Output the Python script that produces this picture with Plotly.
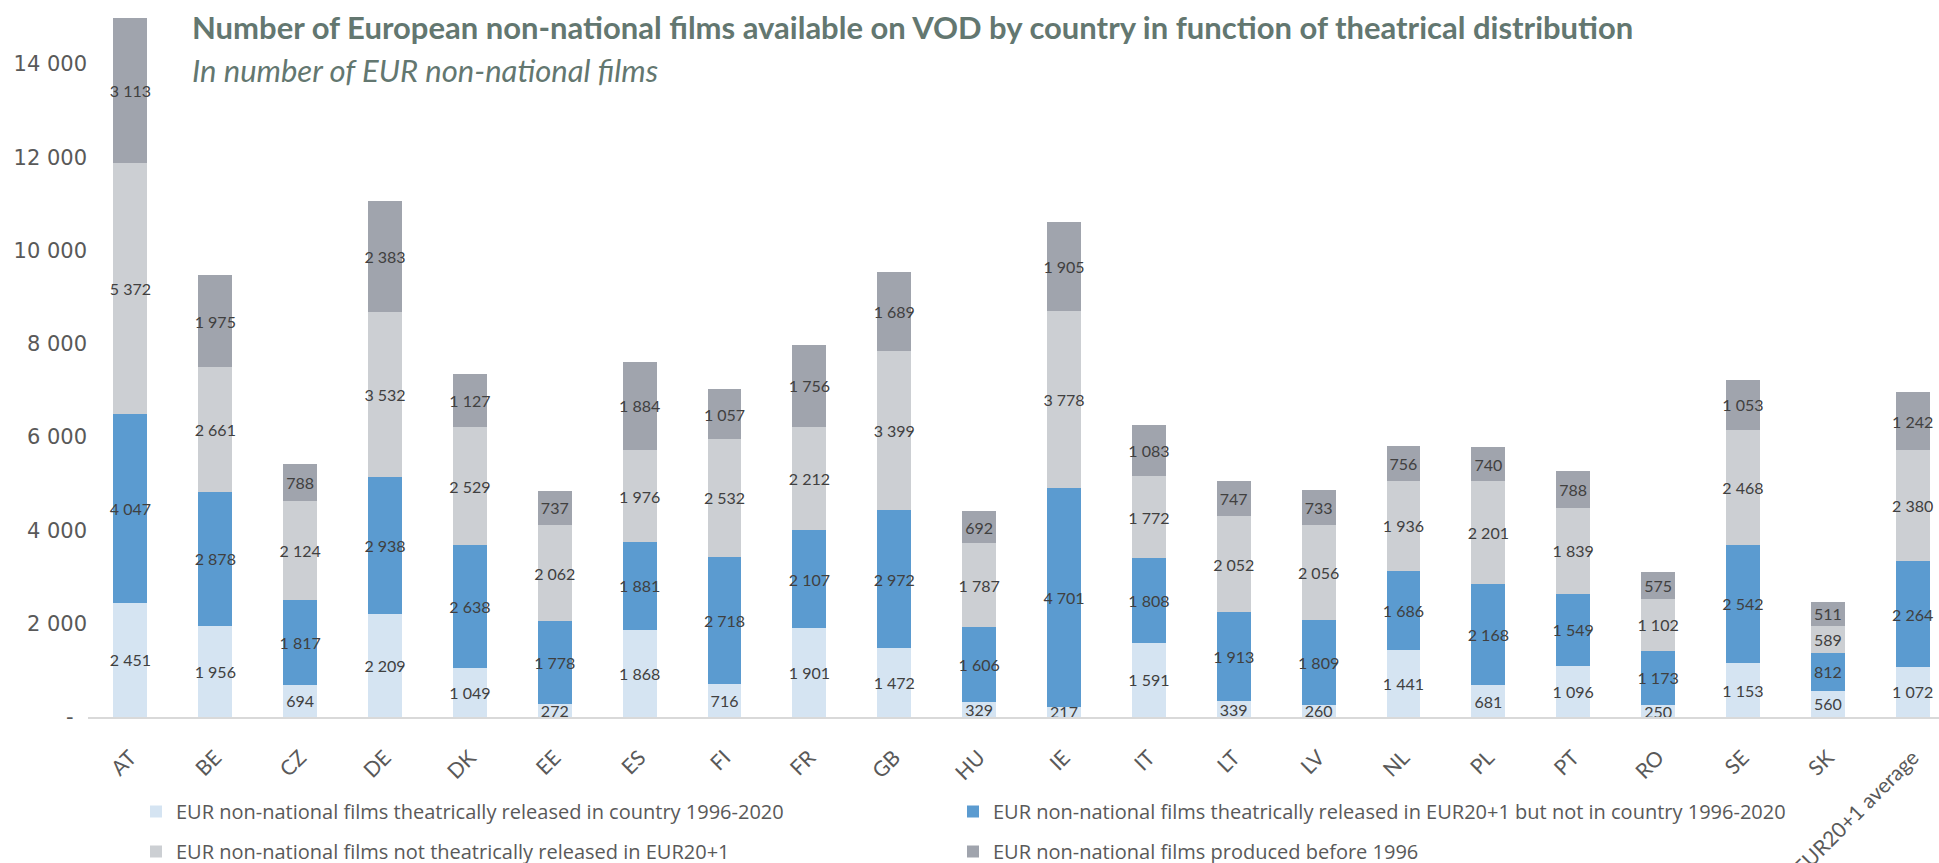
import plotly.graph_objects as go

categories = ["AT", "BE", "CZ", "DE", "DK", "EE", "ES", "FI", "FR", "GB", "HU",
              "IE", "IT", "LT", "LV", "NL", "PL", "PT", "RO", "SE", "SK",
              "EUR20+1 average"]

released_in_country = [2451, 1956, 694, 2209, 1049, 272, 1868, 716, 1901, 1472, 329,
                       217, 1591, 339, 260, 1441, 681, 1096, 250, 1153, 560, 1072]
released_eur_not_country = [4047, 2878, 1817, 2938, 2638, 1778, 1881, 2718, 2107, 2972, 1606,
                            4701, 1808, 1913, 1809, 1686, 2168, 1549, 1173, 2542, 812, 2264]
not_released_eur = [5372, 2661, 2124, 3532, 2529, 2062, 1976, 2532, 2212, 3399, 1787,
                    3778, 1772, 2052, 2056, 1936, 2201, 1839, 1102, 2468, 589, 2380]
before_1996 = [3113, 1975, 788, 2383, 1127, 737, 1884, 1057, 1756, 1689, 692,
               1905, 1083, 747, 733, 756, 740, 788, 575, 1053, 511, 1242]

series_names = [
    "EUR non-national films theatrically released in country 1996-2020",
    "EUR non-national films theatrically released in EUR20+1 but not in country 1996-2020",
    "EUR non-national films not theatrically released in EUR20+1",
    "EUR non-national films produced before 1996",
]
series_values = [released_in_country, released_eur_not_country, not_released_eur, before_1996]
series_colors = ["#d5e4f2", "#5b9bd0", "#cccfd3", "#a0a4ad"]
series_legend = ["legend", "legend2", "legend3", "legend4"]

y_tickvals = [0, 2000, 4000, 6000, 8000, 10000, 12000, 14000]
y_ticktext = ["-\u00a0\u00a0", "2 000", "4 000", "6 000", "8 000", "10 000", "12 000", "14 000"]

# The chart is drawn slightly taller than the 863 px window, like the cropped original.
W, H = 1939, 890
AXIS_Y = 717
L, R, T = 88, 0, 0
B = H - AXIS_Y
plot_w = W - L - R
plot_h = H - B - T

fig = go.Figure()
for name, vals, col, lg in zip(series_names, series_values, series_colors, series_legend):
    fig.add_trace(go.Bar(
        x=categories, y=vals, name=name,
        marker=dict(color=col, line=dict(width=0)),
        texttemplate="%{y:,}",
        textposition="inside",
        insidetextanchor="middle",
        textangle=0,
        constraintext="none",
        cliponaxis=False,
        textfont=dict(family="Lato", size=16, color="#404040"),
        legend=lg,
        hoverinfo="skip",
    ))

def px_x(px):
    return (px - L) / plot_w

def px_y(py):
    return (AXIS_Y - py) / plot_h

legend_font = dict(family="Open Sans", size=20, color="#595959")

def legend_at(left_px, top_px):
    return dict(
        orientation="h", x=px_x(left_px), y=px_y(top_px), xanchor="left", yanchor="top",
        font=legend_font, itemsizing="constant", bgcolor="rgba(0,0,0,0)",
    )

fig.update_layout(
    width=W, height=H,
    barmode="stack",
    bargap=0.6,
    separators=". ",
    plot_bgcolor="white",
    paper_bgcolor="white",
    margin=dict(l=L, r=R, t=T, b=B, pad=0),
    showlegend=True,
    xaxis=dict(
        type="category",
        range=[-0.5, 21.31],
        tickangle=-45,
        tickfont=dict(family="Lato", size=21, color="#595959"),
        ticklabelstandoff=18,
        ticklabelshift=0,
        showline=True, linecolor="#d9d9d9", linewidth=2,
        ticks="", showgrid=False,
    ),
    yaxis=dict(
        range=[0, 15370],
        tickvals=y_tickvals, ticktext=y_ticktext,
        tickfont=dict(family="DejaVu Sans", size=21, color="#595959"),
        showgrid=False, zeroline=False, showline=False, ticks="",
    ),
    legend=legend_at(136, 792),
    legend2=legend_at(953, 792),
    legend3=legend_at(136, 832),
    legend4=legend_at(953, 832),
    annotations=[
        dict(text="<b>Number of European non-national films available on VOD by country in function of theatrical distribution</b>",
             xref="paper", yref="paper", x=px_x(190), y=px_y(27), xanchor="left", yanchor="middle",
             showarrow=False, font=dict(family="Lato", size=31, color="#637770")),
        dict(text="<i>In number of EUR non-national films</i>",
             xref="paper", yref="paper", x=px_x(190), y=px_y(70), xanchor="left", yanchor="middle",
             showarrow=False, font=dict(family="Lato", size=31, color="#637770")),
    ],
)

fig.write_html(
    "out.html",
    config={"displayModeBar": False},
    post_script=(
        "document.body.style.margin='0';document.body.style.padding='0';"
        "document.body.style.overflow='hidden';"
        "document.documentElement.style.overflow='hidden';"
    ),
)
